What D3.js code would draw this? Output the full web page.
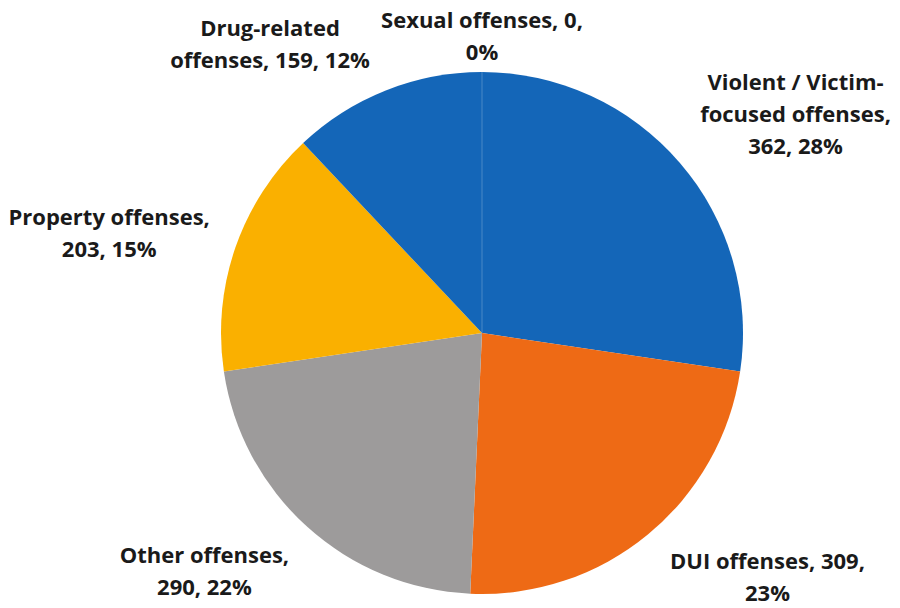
<!DOCTYPE html>
<html>
<head>
<meta charset="utf-8">
<script src="https://cdn.jsdelivr.net/npm/d3@7"></script>
<style>
  html, body { margin: 0; padding: 0; background: #ffffff; }
  svg { display: block; }
  .lbl { font-family: "Open Sans", Lato, sans-serif; font-weight: 700; font-size: 22px; fill: #1a1a1a; }
</style>
</head>
<body>
<svg id="chart" width="900" height="608"></svg>
<script>
// Offense categories, in clockwise order starting at 12 o'clock
const categories = [
  "Violent / Victim-focused offenses",
  "DUI offenses",
  "Other offenses",
  "Property offenses",
  "Drug-related offenses",
  "Sexual offenses"
];
// Number of cases per category
const counts = [362, 309, 290, 203, 159, 0];
// Share of the total as printed on each label
const percents = [28, 23, 22, 15, 12, 0];
// Slice fill colours
const colors = ["#1466b8", "#ee6a15", "#9d9b9b", "#fab000", "#1466b8", "#5e9e3c"];

const W = 900, H = 608;
const cx = 482, cy = 333, R = 261;
const labelGap = 27;       // distance from rim to label anchor
const lineH = 32;          // label line spacing
const wrapWidth = 210;     // max width of a label line
// small hand adjustments for individual labels
const labelNudge = {
  1: { dx: 5, dy: -3 },
  3: { dx: 0, dy: 5 },
  4: { dx: -6, dy: 9 },
  5: { dx: 0, dy: 23 }
};

const svg = d3.select("#chart");
const data = categories.map((c, i) => ({ name: c, value: counts[i], pct: percents[i], color: colors[i], i }));

const pie = d3.pie().value(d => d.value).sort(null).startAngle(0).endAngle(2 * Math.PI);
const arcs = pie(data);
const arc = d3.arc().innerRadius(0).outerRadius(R);

const g = svg.append("g").attr("transform", `translate(${cx},${cy})`);
g.selectAll("path.slice")
  .data(arcs)
  .join("path")
  .attr("class", "slice")
  .attr("d", arc)
  .attr("fill", d => d.data.color)
  .attr("stroke", d => d.data.value === 0 ? "rgba(255,255,255,0.12)" : "none")
  .attr("stroke-width", 1);

// word wrap that may also break right after a hyphen
function wrapText(str, maxW, measure) {
  const tokens = str.match(/[^\s-]+-?|\s+/g).filter(t => !/^\s+$/.test(t));
  const parts = [];
  let pos = 0;
  tokens.forEach(t => {
    const idx = str.indexOf(t, pos);
    parts.push({ t, space: idx > 0 && str[idx - 1] === " " });
    pos = idx + t.length;
  });
  const lines = [];
  let cur = "";
  parts.forEach(p => {
    const cand = cur === "" ? p.t : cur + (p.space ? " " : "") + p.t;
    if (cur !== "" && measure(cand) > maxW) {
      lines.push(cur);
      cur = p.t;
    } else {
      cur = cand;
    }
  });
  if (cur) lines.push(cur);
  return lines;
}

const probe = svg.append("text").attr("class", "lbl").attr("visibility", "hidden");
const measure = s => { probe.text(s); return probe.node().getComputedTextLength(); };

const labels = svg.append("g");
arcs.forEach(a => {
  const d = a.data;
  const text = `${d.name}, ${d.value}, ${d.pct}%`;
  const lines = wrapText(text, wrapWidth, measure);
  const w = d3.max(lines, measure);
  const h = lines.length * lineH;
  const mid = (a.startAngle + a.endAngle) / 2;
  const s = Math.sin(mid), c = Math.cos(mid);
  const ax = cx + (R + labelGap) * s;
  const ay = cy - (R + labelGap) * c;
  const sx = Math.abs(s) < 1e-6 ? 0 : Math.sign(s);
  const nudge = labelNudge[d.i] || { dx: 0, dy: 0 };
  const bx = ax + sx * w / 2 + nudge.dx;
  const by = ay - c * h / 2 + nudge.dy;
  const t = labels.append("text")
    .attr("class", "lbl")
    .attr("text-anchor", "middle");
  lines.forEach((ln, k) => {
    t.append("tspan")
      .attr("x", bx)
      .attr("y", by + (k - (lines.length - 1) / 2) * lineH)
      .attr("dy", "0.36em")
      .text(ln);
  });
});
probe.remove();
</script>
</body>
</html>
